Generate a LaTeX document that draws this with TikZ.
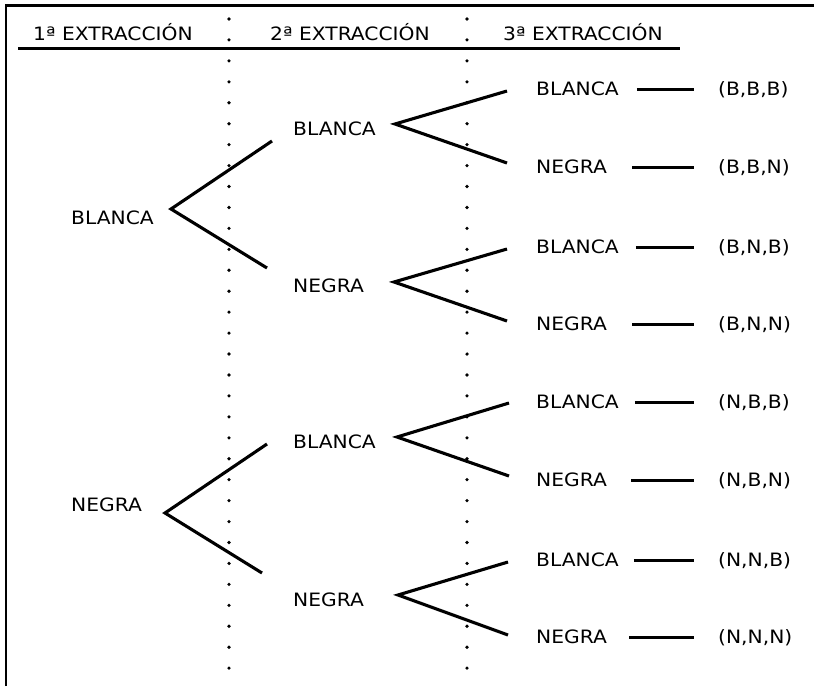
\documentclass[tikz,border=0pt]{standalone}
\usepackage{fontspec}
\setmainfont[FakeStretch=1.1]{DejaVu Sans}
\begin{document}
\begin{tikzpicture}[x=1pt,y=-1pt,
  lbl/.style={anchor=west,inner sep=0pt,text height=13.4pt,text depth=0pt,
              font=\fontsize{18.4pt}{22pt}\selectfont},
  hdr/.style={lbl,anchor=center},
  branch/.style={line width=3.1pt},
  rule/.style={line width=3pt},
  frameline/.style={line width=2.6pt},
  dashln/.style={line width=3pt,shorten >=24pt}]
\useasboundingbox (0,0) rectangle (814,686);

% outer frame (top and left edges)
\draw[frameline] (6,686) -- (6,5.5) -- (814,5.5);

% column headings and rule
\node[hdr] (h1) at (113,34) {1ª EXTRACCIÓN};
\node[hdr] (h2) at (350,34) {2ª EXTRACCIÓN};
\node[hdr] (h3) at (583,34) {3ª EXTRACCIÓN};
\draw[rule] (18,48) -- (680,48);

% dotted separators between the columns
\foreach \i in {0,...,31}{
  \fill (229,19+\i*20.94) circle[radius=1.8pt];
  \fill (467,19+\i*20.94) circle[radius=1.8pt];
}

% first draw
\node[lbl] (b) at (71,218) {BLANCA};
\node[lbl] (n) at (71,505) {NEGRA};

% second draw
\node[lbl] (bb) at (293,129) {BLANCA};
\node[lbl] (bn) at (293,286) {NEGRA};
\node[lbl] (nb) at (293,442) {BLANCA};
\node[lbl] (nn) at (293,600) {NEGRA};

% third draw
\node[lbl] (bbb) at (536,89)  {BLANCA};
\node[lbl] (bbn) at (536,167) {NEGRA};
\node[lbl] (bnb) at (536,247) {BLANCA};
\node[lbl] (bnn) at (536,324) {NEGRA};
\node[lbl] (nbb) at (536,402) {BLANCA};
\node[lbl] (nbn) at (536,480) {NEGRA};
\node[lbl] (nnb) at (536,560) {BLANCA};
\node[lbl] (nnn) at (536,637) {NEGRA};

% outcomes
\node[lbl] (rbbb) at (718,89)  {(B,B,B)};
\node[lbl] (rbbn) at (718,167) {(B,B,N)};
\node[lbl] (rbnb) at (718,247) {(B,N,B)};
\node[lbl] (rbnn) at (718,324) {(B,N,N)};
\node[lbl] (rnbb) at (718,402) {(N,B,B)};
\node[lbl] (rnbn) at (718,480) {(N,B,N)};
\node[lbl] (rnnb) at (718,560) {(N,N,B)};
\node[lbl] (rnnn) at (718,637) {(N,N,N)};

% fork points of the tree
\coordinate (fb)  at (171,209); \coordinate (fbu)  at (272,141); \coordinate (fbd)  at (267,268);
\coordinate (fn)  at (165,513); \coordinate (fnu)  at (267,444); \coordinate (fnd)  at (262,573);
\coordinate (fbb) at (395,124); \coordinate (fbbu) at (507,91);  \coordinate (fbbd) at (507,163);
\coordinate (fbn) at (394,282); \coordinate (fbnu) at (507,249); \coordinate (fbnd) at (507,321);
\coordinate (fnb) at (397,437); \coordinate (fnbu) at (509,403); \coordinate (fnbd) at (509,476);
\coordinate (fnn) at (398,595); \coordinate (fnnu) at (508,562); \coordinate (fnnd) at (508,635);

\foreach \f in {fb,fn,fbb,fbn,fnb,fnn}
  \draw[branch] (\f u) -- (\f) -- (\f d);

% leaf-to-outcome dashes
\draw[dashln,shorten <=18pt] (bbb) -- (rbbb);
\draw[dashln,shorten <=25pt] (bbn) -- (rbbn);
\draw[dashln,shorten <=17pt] (bnb) -- (rbnb);
\draw[dashln,shorten <=25pt] (bnn) -- (rbnn);
\draw[dashln,shorten <=16pt] (nbb) -- (rnbb);
\draw[dashln,shorten <=24pt] (nbn) -- (rnbn);
\draw[dashln,shorten <=15pt] (nnb) -- (rnnb);
\draw[dashln,shorten <=22pt] (nnn) -- (rnnn);
\end{tikzpicture}
\end{document}
